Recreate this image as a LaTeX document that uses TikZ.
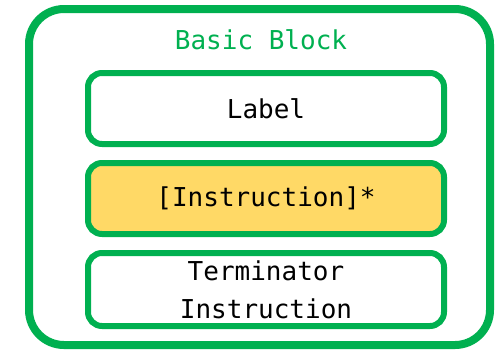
\documentclass[tikz,border=0pt]{standalone}
\usepackage{fontspec}
\setmonofont{DejaVu Sans Mono}
\usetikzlibrary{positioning}
\definecolor{blockgreen}{HTML}{00B050}
\definecolor{instryellow}{HTML}{FFD966}
\tikzset{
  part/.style={draw=blockgreen, line width=6pt, rounded corners=14pt,
    minimum width=356pt, minimum height=71pt, inner sep=0pt, fill=white,
    font=\ttfamily\fontsize{26}{38}\selectfont, align=center},
}
\begin{document}
\begin{tikzpicture}[x=1pt,y=-1pt]
    \useasboundingbox (0,0) rectangle (495,354);
    \node[draw=blockgreen, line width=8pt, rounded corners=35pt, minimum width=461pt, minimum height=336pt, inner sep=0pt] (block) at (259.5,177) {};
    \node[text=blockgreen, font=\ttfamily\fontsize{26}{30}\selectfont] (title) at (261,40) {Basic Block};
    \node[part] (label) at (266,108.5) {Label};
    \node[part, fill=instryellow] (instr) at (266,198.5) {[Instruction]*};
    \node[part, minimum height=73pt] (term) at (266,289.5) {Terminator\\Instruction};
\end{tikzpicture}
\end{document}
